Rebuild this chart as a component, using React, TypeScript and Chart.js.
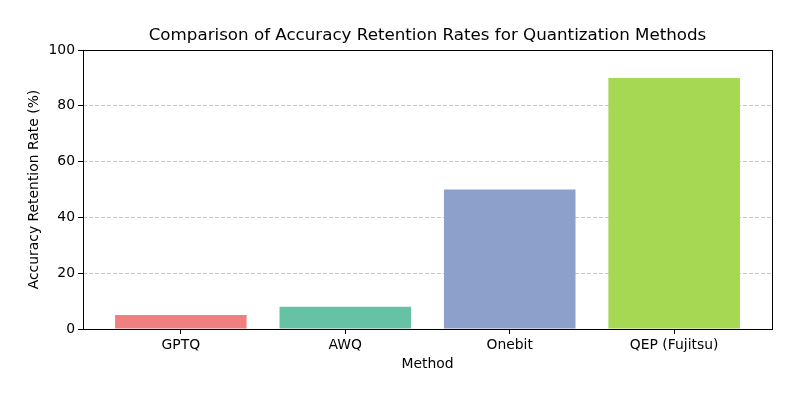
import { useEffect, useRef } from "react";
import { Chart, registerables, type Plugin } from "chart.js";

Chart.register(...registerables);

const methods = ["GPTQ", "AWQ", "Onebit", "QEP (Fujitsu)"];
const retention = [5, 8, 50, 90];
const barColors = ["#f08080", "#66c2a5", "#8da0cb", "#a6d854"];
const yTicks = [0, 20, 40, 60, 80, 100];

const FONT = "'DejaVu Sans', sans-serif";

// matplotlib-style full box around the axes
const frame: Plugin<"bar"> = {
  id: "frame",
  afterDatasetsDraw(chart) {
    const { ctx, chartArea: a } = chart;
    ctx.save();
    ctx.strokeStyle = "#000";
    ctx.lineWidth = 1;
    ctx.strokeRect(Math.round(a.left) + 0.5, Math.round(a.top) + 0.5, Math.round(a.right - a.left), Math.round(a.bottom - a.top));
    ctx.restore();
  },
};

export default function App() {
  const canvasRef = useRef<HTMLCanvasElement>(null);

  useEffect(() => {
    document.body.style.margin = "0";
    if (!canvasRef.current) return;

    const chart = new Chart(canvasRef.current, {
      type: "bar",
      data: {
        datasets: [{
          data: retention.map((v, i) => ({ x: i, y: v })),
          backgroundColor: barColors,
          borderWidth: 0,
          barPercentage: 0.8,
          categoryPercentage: 1,
        }],
      },
      options: {
        animation: false,
        responsive: false,
        devicePixelRatio: 1,
        layout: { padding: { top: 0, left: 0, right: 28, bottom: 0 } },
        plugins: {
          legend: { display: false },
          tooltip: { enabled: false },
          title: {
            display: true,
            fullSize: false,
            text: "Comparison of Accuracy Retention Rates for Quantization Methods",
            color: "#000",
            font: { family: FONT, size: 16.7, weight: "normal" },
            padding: { top: 26, bottom: 4 },
          },
        },
        scales: {
          x: {
            type: "linear",
            min: -0.595,
            max: 3.595,
            offset: false,
            afterFit: (s) => { s.height = 71; },
            afterBuildTicks: (s) => { s.ticks = methods.map((_, i) => ({ value: i })); },
            ticks: {
              color: "#000",
              font: { family: FONT, size: 13.9 },
              padding: 3,
              maxRotation: 0,
              autoSkip: false,
              callback: (v) => methods[Number(v)] ?? "",
            },
            grid: { offset: false, drawOnChartArea: false, drawTicks: true, tickLength: 5, tickColor: "#000" },
            border: { display: false },
            title: {
              display: true,
              text: "Method",
              color: "#000",
              font: { family: FONT, size: 13.9 },
              padding: { top: 0, bottom: 27 },
            },
          },
          y: {
            min: 0,
            max: 100,
            afterFit: (s) => { s.width = 83; },
            afterBuildTicks: (s) => { s.ticks = yTicks.map((v) => ({ value: v })); },
            ticks: {
              color: "#000",
              font: { family: FONT, size: 13.9 },
              padding: 3,
            },
            grid: {
              color: "rgba(176,176,176,0.7)",
              lineWidth: 1,
              tickLength: 5,
              tickColor: "#000",
              tickBorderDash: [],
            },
            border: { display: false, dash: [4, 2] },
            title: {
              display: true,
              text: "Accuracy Retention Rate (%)",
              color: "#000",
              font: { family: FONT, size: 13.9 },
              padding: { top: 26, bottom: 0 },
            },
          },
        },
      },
      plugins: [frame],
    });

    return () => {
      chart.destroy();
    };
  }, []);

  return (
    <div style={{ width: 800, height: 400, background: "#fff" }}>
      <canvas ref={canvasRef} width={800} height={400} />
    </div>
  );
}
